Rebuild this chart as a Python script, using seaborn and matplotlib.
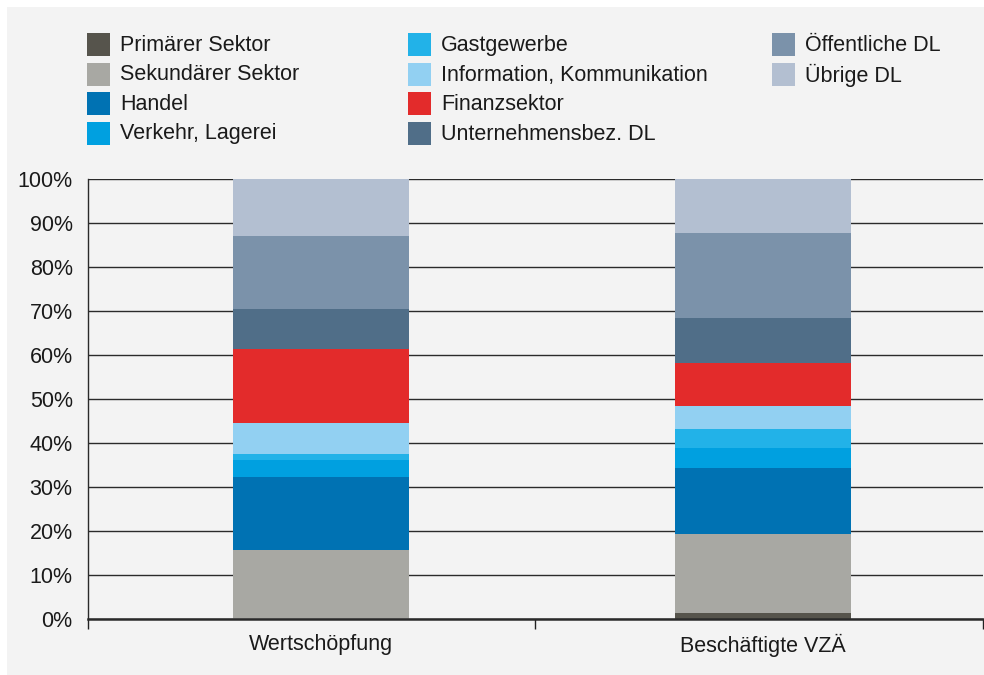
import matplotlib
matplotlib.use("Agg")
import matplotlib.pyplot as plt
import seaborn as sns
import numpy as np
import pandas as pd
from matplotlib.patches import Rectangle

# ---- data ----
categories = ["Wertschöpfung", "Beschäftigte VZÄ"]
sectors = ["Primärer Sektor", "Sekundärer Sektor", "Handel", "Verkehr, Lagerei",
           "Gastgewerbe", "Information, Kommunikation", "Finanzsektor",
           "Unternehmensbez. DL", "Öffentliche DL", "Übrige DL"]
wertschoepfung = [0.0, 15.6, 16.6, 3.9, 1.4, 7.0, 16.9, 9.1, 16.6, 12.9]
beschaeftigte = [1.3, 18.0, 15.0, 4.5, 4.4, 5.2, 9.8, 10.2, 19.4, 12.2]
colors = ["#56544c", "#a8a8a3", "#0072b3", "#00a0e0", "#22b2e8",
          "#92d0f2", "#e32b2b", "#506e88", "#7b92aa", "#b3bfd1"]
ytick_values = list(range(0, 101, 10))
ytick_labels = [f"{v}%" for v in ytick_values]

sns.set_theme(style="white")
plt.rcParams["font.family"] = ["Liberation Sans", "DejaVu Sans"]
TXT = "#1a1a1a"
BG = "#f3f3f3"
FS = 15.5
W, H = 984, 675

fig = plt.figure(figsize=(W / 100, H / 100), dpi=100)
fig.patch.set_facecolor("white")
fig.patches.append(Rectangle((7 / W, 0), 1 - 7 / W, 1 - 7 / H,
                             transform=fig.transFigure, facecolor=BG,
                             edgecolor="none", zorder=-10))

ax = fig.add_axes([88 / W, 1 - 619 / H, 895 / W, 440 / H])
ax.set_facecolor(BG)

bottom = np.zeros(len(categories))
for i, s in enumerate(sectors):
    vals = np.array([wertschoepfung[i], beschaeftigte[i]])
    sns.barplot(x=categories, y=vals, bottom=bottom, color=colors[i],
                width=0.398, saturation=1, ax=ax, zorder=3, linewidth=0)
    bottom = bottom + vals

ax.set_ylim(0, 100)
ax.set_xlim(-0.527, 1.498)
ax.set_yticks(ytick_values)
ax.set_yticklabels(ytick_labels, fontsize=FS, color=TXT)
ax.tick_params(axis="y", length=0, pad=11)
ax.set_xticks([0, 1])
ax.set_xticklabels(categories, fontsize=FS, color=TXT)
ax.tick_params(axis="x", which="major", length=0, pad=11)
ax.set_xticks([-0.527, 0.484, 1.498], minor=True)
ax.tick_params(axis="x", which="minor", length=7, width=1.0, color="#222222",
               direction="out", bottom=True)
ax.set_xlabel("")
ax.set_ylabel("")

ax.yaxis.grid(True, color="#2a2a2a", linewidth=1.0, zorder=0)
ax.xaxis.grid(False)
ax.set_axisbelow(True)
for sp in ["top", "right"]:
    ax.spines[sp].set_visible(False)
ax.spines["left"].set_color("#2a2a2a")
ax.spines["left"].set_linewidth(1.0)
ax.spines["bottom"].set_color("#2a2a2a")
ax.spines["bottom"].set_linewidth(1.8)
ax.spines["bottom"].set_zorder(5)

# ---- legend (3 columns, column-wise fill) ----
sq_x = [87, 408, 772]
row_top = [33, 62.5, 92, 121.5]
sq = 23
for i, s in enumerate(sectors):
    col, row = i // 4, i % 4
    x0, y0 = sq_x[col], row_top[row]
    fig.patches.append(Rectangle((x0 / W, 1 - (y0 + sq) / H), sq / W, sq / H,
                                 transform=fig.transFigure, facecolor=colors[i],
                                 edgecolor="none"))
    fig.text((x0 + 33) / W, 1 - (y0 + sq / 2 + 1) / H, s, fontsize=FS,
             color=TXT, va="center", ha="left")

fig.savefig("out.png", dpi=100, facecolor=fig.get_facecolor())
